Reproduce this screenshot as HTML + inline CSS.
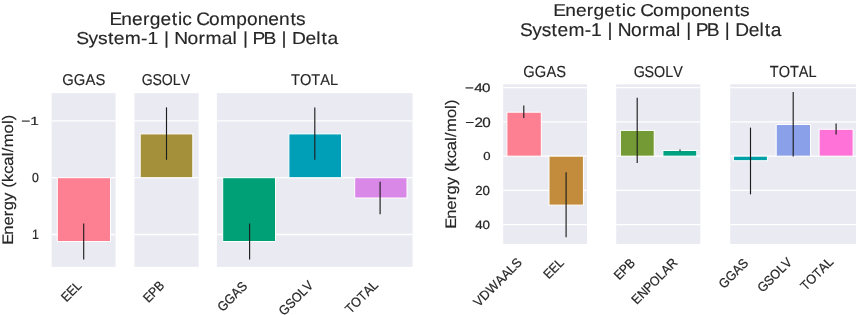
<!DOCTYPE html><html><head><meta charset="utf-8"><title>Energetic Components</title><style>html,body{margin:0;padding:0;background:#fff;width:858px;height:315px;overflow:hidden}svg{display:block;will-change:transform}text{font-family:"Liberation Sans",sans-serif;fill:#262626;text-rendering:geometricPrecision;stroke:#262626;stroke-width:0.15px}.tk{stroke-width:0.22px}</style></head><body>
<svg width="858" height="315" viewBox="0 0 858 315">
<rect x="0" y="0" width="858" height="315" fill="#fff"/>
<rect x="51.60" y="93.10" width="64.00" height="173.80" fill="#EAEAF2"/>
<line x1="51.60" y1="120.90" x2="115.60" y2="120.90" stroke="#fff" stroke-width="1.3"/>
<line x1="51.60" y1="177.70" x2="115.60" y2="177.70" stroke="#fff" stroke-width="1.3"/>
<line x1="51.60" y1="234.50" x2="115.60" y2="234.50" stroke="#fff" stroke-width="1.3"/>
<rect x="134.40" y="93.10" width="64.20" height="173.80" fill="#EAEAF2"/>
<line x1="134.40" y1="120.90" x2="198.60" y2="120.90" stroke="#fff" stroke-width="1.3"/>
<line x1="134.40" y1="177.70" x2="198.60" y2="177.70" stroke="#fff" stroke-width="1.3"/>
<line x1="134.40" y1="234.50" x2="198.60" y2="234.50" stroke="#fff" stroke-width="1.3"/>
<rect x="216.90" y="93.10" width="195.60" height="173.80" fill="#EAEAF2"/>
<line x1="216.90" y1="120.90" x2="412.50" y2="120.90" stroke="#fff" stroke-width="1.3"/>
<line x1="216.90" y1="177.70" x2="412.50" y2="177.70" stroke="#fff" stroke-width="1.3"/>
<line x1="216.90" y1="234.50" x2="412.50" y2="234.50" stroke="#fff" stroke-width="1.3"/>
<rect x="57.30" y="177.70" width="53.20" height="63.80" fill="#fd7f92" stroke="#fff" stroke-width="1.0"/>
<line x1="83.70" y1="223.50" x2="83.70" y2="259.60" stroke="#1e1e1e" stroke-width="1.15" stroke-linecap="butt"/>
<rect x="140.20" y="133.90" width="52.60" height="43.80" fill="#a4903a" stroke="#fff" stroke-width="1.0"/>
<line x1="166.50" y1="107.40" x2="166.50" y2="159.80" stroke="#1e1e1e" stroke-width="1.15" stroke-linecap="butt"/>
<rect x="222.70" y="177.70" width="52.80" height="63.80" fill="#00a077" stroke="#fff" stroke-width="1.0"/>
<line x1="249.60" y1="223.50" x2="249.60" y2="259.60" stroke="#1e1e1e" stroke-width="1.15" stroke-linecap="butt"/>
<rect x="288.90" y="133.90" width="52.60" height="43.80" fill="#009fb8" stroke="#fff" stroke-width="1.0"/>
<line x1="314.80" y1="107.60" x2="314.80" y2="159.80" stroke="#1e1e1e" stroke-width="1.15" stroke-linecap="butt"/>
<rect x="354.70" y="177.70" width="52.30" height="20.30" fill="#d988e8" stroke="#fff" stroke-width="1.0"/>
<line x1="380.10" y1="181.70" x2="380.10" y2="214.30" stroke="#1e1e1e" stroke-width="1.15" stroke-linecap="butt"/>
<rect x="503.20" y="84.30" width="83.80" height="159.70" fill="#EAEAF2"/>
<line x1="503.20" y1="87.65" x2="587.00" y2="87.65" stroke="#fff" stroke-width="1.3"/>
<line x1="503.20" y1="121.90" x2="587.00" y2="121.90" stroke="#fff" stroke-width="1.3"/>
<line x1="503.20" y1="156.15" x2="587.00" y2="156.15" stroke="#fff" stroke-width="1.3"/>
<line x1="503.20" y1="190.40" x2="587.00" y2="190.40" stroke="#fff" stroke-width="1.3"/>
<line x1="503.20" y1="224.65" x2="587.00" y2="224.65" stroke="#fff" stroke-width="1.3"/>
<rect x="616.20" y="84.30" width="84.10" height="159.70" fill="#EAEAF2"/>
<line x1="616.20" y1="87.65" x2="700.30" y2="87.65" stroke="#fff" stroke-width="1.3"/>
<line x1="616.20" y1="121.90" x2="700.30" y2="121.90" stroke="#fff" stroke-width="1.3"/>
<line x1="616.20" y1="156.15" x2="700.30" y2="156.15" stroke="#fff" stroke-width="1.3"/>
<line x1="616.20" y1="190.40" x2="700.30" y2="190.40" stroke="#fff" stroke-width="1.3"/>
<line x1="616.20" y1="224.65" x2="700.30" y2="224.65" stroke="#fff" stroke-width="1.3"/>
<rect x="730.20" y="84.30" width="125.80" height="159.70" fill="#EAEAF2"/>
<line x1="730.20" y1="87.65" x2="856.00" y2="87.65" stroke="#fff" stroke-width="1.3"/>
<line x1="730.20" y1="121.90" x2="856.00" y2="121.90" stroke="#fff" stroke-width="1.3"/>
<line x1="730.20" y1="156.15" x2="856.00" y2="156.15" stroke="#fff" stroke-width="1.3"/>
<line x1="730.20" y1="190.40" x2="856.00" y2="190.40" stroke="#fff" stroke-width="1.3"/>
<line x1="730.20" y1="224.65" x2="856.00" y2="224.65" stroke="#fff" stroke-width="1.3"/>
<rect x="506.90" y="112.20" width="34.40" height="43.95" fill="#fd7f92" stroke="#fff" stroke-width="1.0"/>
<line x1="523.80" y1="105.50" x2="523.80" y2="117.90" stroke="#1e1e1e" stroke-width="1.15" stroke-linecap="butt"/>
<rect x="549.00" y="156.15" width="34.40" height="48.95" fill="#c28c3c" stroke="#fff" stroke-width="1.0"/>
<line x1="566.10" y1="172.20" x2="566.10" y2="237.30" stroke="#1e1e1e" stroke-width="1.15" stroke-linecap="butt"/>
<rect x="620.40" y="130.40" width="33.80" height="25.75" fill="#739a34" stroke="#fff" stroke-width="1.0"/>
<line x1="637.20" y1="97.70" x2="637.20" y2="162.90" stroke="#1e1e1e" stroke-width="1.15" stroke-linecap="butt"/>
<rect x="662.90" y="150.50" width="33.90" height="5.65" fill="#00a080" stroke="#fff" stroke-width="1.0"/>
<line x1="680.00" y1="149.60" x2="680.00" y2="151.20" stroke="#1e1e1e" stroke-width="1.15" stroke-linecap="butt"/>
<rect x="733.40" y="156.15" width="34.00" height="4.55" fill="#00a0a8" stroke="#fff" stroke-width="1.0"/>
<line x1="750.50" y1="127.60" x2="750.50" y2="194.40" stroke="#1e1e1e" stroke-width="1.15" stroke-linecap="butt"/>
<rect x="776.20" y="124.50" width="34.30" height="31.65" fill="#8aa0e8" stroke="#fff" stroke-width="1.0"/>
<line x1="793.20" y1="92.00" x2="793.20" y2="156.50" stroke="#1e1e1e" stroke-width="1.15" stroke-linecap="butt"/>
<rect x="819.10" y="129.30" width="34.00" height="26.85" fill="#ff72d8" stroke="#fff" stroke-width="1.0"/>
<line x1="836.10" y1="123.50" x2="836.10" y2="134.60" stroke="#1e1e1e" stroke-width="1.15" stroke-linecap="butt"/>
<text id="l1" x="115.12 126.31 136.36 146.64 153.04 163.11 173.73 179.63 183.78 192.77 196.94 208.99 219.26 234.71 244.74 254.77 264.83 274.88 285.66 291.00" y="24.80" font-size="18.05" transform="translate(207.88 24.80) scale(1.0610 1) translate(-207.88 -24.80)">Energetic Components</text>
<text id="l2" x="89.34 100.24 108.82 117.79 123.14 133.00 147.62 153.38 163.15 168.35 173.24 177.61 189.54 199.36 205.71 220.34 230.10 234.21 239.42 244.31 248.04 257.98 269.09 274.30 279.19 283.73 295.85 305.63 310.31 315.65" y="44.20" font-size="17.33" transform="translate(207.71 44.20) scale(1.1095 1) translate(-207.71 -44.20)">System-1 | Normal | PB | Delta</text>
<text id="r1" x="563.58 574.23 583.79 593.57 599.66 609.24 619.34 624.95 628.90 637.45 641.42 652.88 662.65 677.35 686.89 696.43 706.00 715.56 725.81 730.89" y="16.00" font-size="17.17" transform="translate(651.82 16.00) scale(1.1160 1) translate(-651.82 -16.00)">Energetic Components</text>
<text id="r2" x="525.29 536.89 546.01 555.54 561.24 571.72 587.27 593.39 603.77 609.31 614.51 619.15 631.83 642.27 649.02 664.59 674.96 679.33 684.87 690.07 694.04 704.60 716.42 721.95 727.16 731.98 744.87 755.27 760.25 765.92" y="35.70" font-size="18.42" transform="translate(651.15 35.70) scale(1.0412 1) translate(-651.15 -35.70)">System-1 | Normal | PB | Delta</text>
<text id="lt1" x="60.98 73.26 85.68 96.13" y="84.60" font-size="15.73" transform="translate(83.68 84.60) scale(0.9416 1) translate(-83.68 -84.60)">GGAS</text>
<text id="lt2" x="138.89 150.87 161.20 173.54 182.45" y="84.60" font-size="15.73" transform="translate(165.99 84.60) scale(0.8964 1) translate(-165.99 -84.60)">GSOLV</text>
<text id="lt3" x="289.24 298.82 311.02 320.67 331.21" y="84.60" font-size="15.71" transform="translate(314.60 84.60) scale(0.9288 1) translate(-314.60 -84.60)">TOTAL</text>
<text id="rt1" x="521.34 533.88 546.58 557.25" y="76.80" font-size="16.07" transform="translate(544.53 76.80) scale(0.9142 1) translate(-544.53 -76.80)">GGAS</text>
<text id="rt2" x="631.10 643.14 653.52 665.92 674.88" y="76.80" font-size="15.80" transform="translate(658.34 76.80) scale(0.9068 1) translate(-658.34 -76.80)">GSOLV</text>
<text id="rt3" x="767.31 777.11 789.59 799.46 810.25" y="76.80" font-size="16.08" transform="translate(793.26 76.80) scale(0.9024 1) translate(-793.26 -76.80)">TOTAL</text>
<text id="ly1" class="tk" x="23.22 30.04" y="125.40" font-size="11.68" transform="translate(29.50 125.40) scale(1.3163 1) translate(-29.50 -125.40)">−1</text>
<text id="ly2" class="tk" x="31.89" y="182.20" font-size="12.99" transform="translate(35.50 182.20) scale(0.9438 1) translate(-35.50 -182.20)">0</text>
<text id="ly3" class="tk" x="31.63" y="238.70" font-size="13.51" transform="translate(35.39 238.70) scale(0.9148 1) translate(-35.39 -238.70)">1</text>
<text id="ry1" class="tk" x="467.20 474.71 481.04" y="92.00" font-size="12.38" transform="translate(477.14 92.00) scale(1.2212 1) translate(-477.14 -92.00)">−40</text>
<text id="ry2" class="tk" x="466.57 474.79 481.73" y="126.60" font-size="13.56" transform="translate(477.46 126.60) scale(1.1229 1) translate(-477.46 -126.60)">−20</text>
<text id="ry3" class="tk" x="483.72" y="160.30" font-size="11.60" transform="translate(486.95 160.30) scale(1.1277 1) translate(-486.95 -160.30)">0</text>
<text id="ry4" class="tk" x="475.33 482.63" y="194.60" font-size="13.11" transform="translate(482.63 194.60) scale(1.0121 1) translate(-482.63 -194.60)">20</text>
<text id="ry5" class="tk" x="475.93 482.64" y="229.30" font-size="12.07" transform="translate(482.64 229.30) scale(1.1107 1) translate(-482.64 -229.30)">40</text>
<text id="lax" x="-47.20 -37.85 -29.46 -20.87 -15.54 -6.88 0.93 5.26 10.50 18.08 25.46 33.99 37.69 42.26 55.03 63.55 67.19" y="179.22" font-size="15.26" transform="rotate(-90.00 13.00 179.22) translate(13.00 179.22) scale(1.0901 1) translate(-13.00 -179.22)">Energy (kcal/mol)</text>
<text id="rax" x="396.10 405.45 413.84 422.43 427.76 436.42 444.23 448.56 453.80 461.38 468.76 477.29 480.99 485.56 498.33 506.85 510.49" y="163.64" font-size="15.26" transform="rotate(-90.00 456.30 163.64) translate(456.30 163.64) scale(1.0835 1) translate(-456.30 -163.64)">Energy (kcal/mol)</text>
<text id="lx1" class="tk" x="57.58 66.20 75.03" y="286.39" font-size="13.14" transform="rotate(-45.00 82.49 286.39) translate(82.49 286.39) scale(0.9091 1) translate(-82.49 -286.39)">EEL</text>
<text id="lx2" class="tk" x="138.94 147.39 156.21" y="286.27" font-size="13.14" transform="rotate(-45.00 165.28 286.27) translate(165.28 286.27) scale(0.9060 1) translate(-165.28 -286.27)">EPB</text>
<text id="lx3" class="tk" x="209.89 220.14 230.52 239.25" y="287.14" font-size="13.14" transform="rotate(-45.00 247.84 287.14) translate(247.84 287.14) scale(0.9369 1) translate(-247.84 -287.14)">GGAS</text>
<text id="lx4" class="tk" x="268.87 278.88 287.52 297.82 305.27" y="286.06" font-size="13.14" transform="rotate(-45.00 314.15 286.06) translate(314.15 286.06) scale(0.9416 1) translate(-314.15 -286.06)">GSOLV</text>
<text id="lx5" class="tk" x="336.62 344.63 354.83 362.90 371.71" y="285.73" font-size="13.14" transform="rotate(-45.00 378.99 285.73) translate(378.99 285.73) scale(0.9518 1) translate(-378.99 -285.73)">TOTAL</text>
<text id="rx1" class="tk" x="458.34 467.32 477.16 489.72 498.50 507.20 514.13" y="263.52" font-size="13.14" transform="rotate(-45.00 522.58 263.52) translate(522.58 263.52) scale(0.9655 1) translate(-522.58 -263.52)">VDWAALS</text>
<text id="rx2" class="tk" x="539.89 548.51 557.34" y="263.46" font-size="13.14" transform="rotate(-45.00 564.80 263.46) translate(564.80 263.46) scale(0.9091 1) translate(-564.80 -263.46)">EEL</text>
<text id="rx3" class="tk" x="609.75 618.20 627.02" y="263.65" font-size="13.14" transform="rotate(-45.00 636.09 263.65) translate(636.09 263.65) scale(0.9060 1) translate(-636.09 -263.65)">EPB</text>
<text id="rx4" class="tk" x="615.24 624.09 633.46 642.01 652.43 659.99 668.82" y="263.59" font-size="13.14" transform="rotate(-45.00 678.21 263.59) translate(678.21 263.59) scale(0.9293 1) translate(-678.21 -263.59)">ENPOLAR</text>
<text id="rx5" class="tk" x="711.11 721.37 731.75 740.48" y="264.03" font-size="13.14" transform="rotate(-45.00 749.06 264.03) translate(749.06 264.03) scale(0.9369 1) translate(-749.06 -264.03)">GGAS</text>
<text id="rx6" class="tk" x="747.58 757.59 766.22 776.53 783.97" y="262.98" font-size="13.14" transform="rotate(-45.00 792.86 262.98) translate(792.86 262.98) scale(0.9416 1) translate(-792.86 -262.98)">GSOLV</text>
<text id="rx7" class="tk" x="791.80 799.81 810.01 818.08 826.89" y="262.65" font-size="13.14" transform="rotate(-45.00 834.17 262.65) translate(834.17 262.65) scale(0.9518 1) translate(-834.17 -262.65)">TOTAL</text>
</svg></body></html>
